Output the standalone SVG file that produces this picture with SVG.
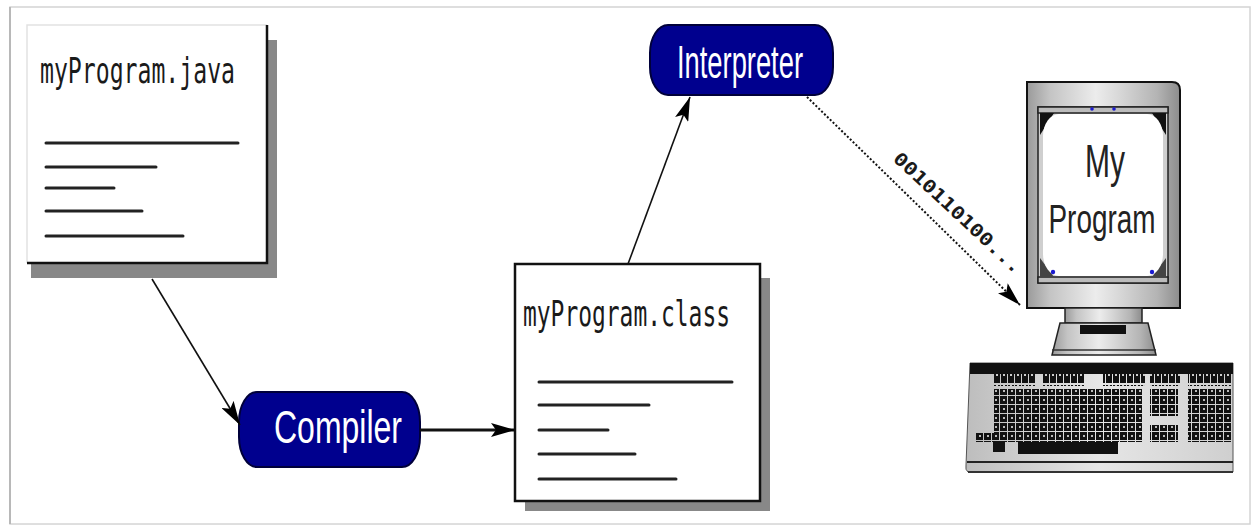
<svg xmlns="http://www.w3.org/2000/svg" width="1258" height="526" viewBox="0 0 1258 526">
  <style>
    .mono { font-family: "DejaVu Sans Mono", "Liberation Mono", monospace; fill: #1a1a1a; }
    .pilltext { font-family: "Liberation Sans", Arial, sans-serif; fill: #ffffff; text-anchor: middle; }
    .pill { fill: #00008e; stroke: #00003a; stroke-width: 2; }
    .docline { stroke: #222; stroke-width: 3; stroke-linecap: round; }
    .shadow { fill: #888; }
    .edge { stroke: #111; fill: none; }
    .dotted { stroke: #111; stroke-width: 2; stroke-dasharray: 2 2; fill: none; }
    .screentext { font-family: "Liberation Sans", Arial, sans-serif; fill: #222; text-anchor: middle; }
  </style>
  <defs>
    <marker id="arrow" viewBox="0 0 24 14" refX="24" refY="7" markerWidth="24" markerHeight="14" markerUnits="userSpaceOnUse" orient="auto">
      <path d="M0,0 L24,7 L0,14 L5,7 Z" fill="#000"/>
    </marker>
    <linearGradient id="metal" x1="0" y1="0" x2="1" y2="0">
      <stop offset="0" stop-color="#9a9a9a"/>
      <stop offset="0.15" stop-color="#c4c4c4"/>
      <stop offset="0.45" stop-color="#ececec"/>
      <stop offset="0.6" stop-color="#d8d8d8"/>
      <stop offset="0.85" stop-color="#b4b4b4"/>
      <stop offset="1" stop-color="#8c8c8c"/>
    </linearGradient>
    <linearGradient id="kbd" x1="0" y1="0" x2="1" y2="0">
      <stop offset="0" stop-color="#bdbdbd"/>
      <stop offset="0.5" stop-color="#e6e6e6"/>
      <stop offset="1" stop-color="#cfcfcf"/>
    </linearGradient>
    <pattern id="keys" x="0" y="0" width="8" height="9" patternUnits="userSpaceOnUse">
      <rect x="0" y="0" width="7" height="8" fill="#111"/>
      <rect x="3" y="3" width="2" height="2" fill="#bbb"/>
    </pattern>
    <pattern id="fkeys" x="0" y="0" width="7" height="12" patternUnits="userSpaceOnUse">
      <rect x="0" y="1" width="6" height="10" fill="#111"/>
      <rect x="2" y="1" width="2" height="3" fill="#ccc"/>
    </pattern>
  </defs>

  <!-- page frame -->
  <rect x="10" y="7" width="1240" height="517" fill="#fff" stroke="#d4d4d4" stroke-width="1.5"/>
  <line x1="10" y1="7" x2="10" y2="524" stroke="#b8b8b8" stroke-width="2"/>

  <!-- source file -->
  <g id="java-file">
    <rect class="shadow" x="31" y="40" width="246" height="238"/>
    <rect x="27" y="25" width="240" height="238" fill="#fff"/>
    <path d="M27,263 L27,25 L267,25" stroke="#e2e2e2" stroke-width="1.5" fill="none"/>
    <path d="M267,25 L267,263 L27,263" stroke="#111" stroke-width="2.5" fill="none"/>
    <text class="mono" x="40" y="83" font-size="35" textLength="195" lengthAdjust="spacingAndGlyphs">myProgram.java</text>
    <line class="docline" x1="46" y1="143" x2="238" y2="143"/>
    <line class="docline" x1="46" y1="167" x2="156" y2="167"/>
    <line class="docline" x1="46" y1="188" x2="114" y2="188"/>
    <line class="docline" x1="46" y1="211" x2="142" y2="211"/>
    <line class="docline" x1="46" y1="236" x2="183" y2="236"/>
  </g>

  <!-- compiler -->
  <g id="compiler">
    <rect class="pill" x="239" y="392" width="181" height="75" rx="18" ry="30"/>
    <text class="pilltext" x="338" y="443" font-size="47" textLength="128" lengthAdjust="spacingAndGlyphs">Compiler</text>
  </g>

  <!-- bytecode file -->
  <g id="class-file">
    <rect class="shadow" x="525" y="278" width="245" height="233"/>
    <rect x="515" y="264" width="245" height="237" fill="#fff" stroke="#111" stroke-width="2.5"/>
    <text class="mono" x="523" y="326" font-size="36" textLength="207" lengthAdjust="spacingAndGlyphs">myProgram.class</text>
    <line class="docline" x1="539" y1="382" x2="732" y2="382"/>
    <line class="docline" x1="539" y1="405" x2="649" y2="405"/>
    <line class="docline" x1="539" y1="430" x2="608" y2="430"/>
    <line class="docline" x1="539" y1="454" x2="635" y2="454"/>
    <line class="docline" x1="539" y1="479" x2="676" y2="479"/>
  </g>

  <!-- interpreter -->
  <g id="interpreter">
    <rect class="pill" x="650" y="25" width="183" height="70" rx="18" ry="28"/>
    <text class="pilltext" x="740" y="78" font-size="47" textLength="126" lengthAdjust="spacingAndGlyphs">Interpreter</text>
  </g>

  <!-- computer -->
  <g id="computer">
    <!-- monitor casing -->
    <path d="M1027,82 L1172,82 Q1180,82 1180,90 L1180,308 L1027,308 Z" fill="url(#metal)" stroke="#111" stroke-width="2"/>
    <rect x="1038" y="107" width="130" height="176" fill="#cfcfcf" stroke="#222" stroke-width="1.5"/>
    <rect x="1038" y="107" width="130" height="6" fill="#bcbcbc" stroke="#222" stroke-width="1.5"/>
    <rect x="1038" y="277" width="130" height="6" fill="#bcbcbc" stroke="#222" stroke-width="1.5"/>
    <!-- dark screen corners -->
    <path d="M1040,113 L1054,113 L1040,135 Z" fill="#111"/>
    <path d="M1166,113 L1152,113 L1166,135 Z" fill="#111"/>
    <path d="M1040,277 L1054,277 L1040,258 Z" fill="#444"/>
    <path d="M1166,277 L1152,277 L1166,258 Z" fill="#444"/>
    <rect x="1043" y="114" width="120" height="162" rx="16" ry="22" fill="#fff"/>
    <circle cx="1092" cy="109" r="1.8" fill="#1a1ad0"/>
    <circle cx="1114" cy="109" r="1.8" fill="#1a1ad0"/>
    <circle cx="1053" cy="272" r="2.2" fill="#1a1ad0"/>
    <circle cx="1152" cy="272" r="2.2" fill="#1a1ad0"/>
    <text class="screentext" x="1105" y="177" font-size="46" textLength="40" lengthAdjust="spacingAndGlyphs">My</text>
    <text class="screentext" x="1102" y="233" font-size="40" textLength="107" lengthAdjust="spacingAndGlyphs">Program</text>
    <!-- neck and stand -->
    <rect x="1065" y="308" width="77" height="15" fill="url(#metal)" stroke="#222" stroke-width="1.5"/>
    <path d="M1060,323 L1148,323 L1156,355 L1052,355 Z" fill="url(#metal)" stroke="#222" stroke-width="1.5"/>
    <rect x="1080" y="325" width="46" height="9" fill="#111"/>
    <line x1="1052" y1="350" x2="1156" y2="350" stroke="#333" stroke-width="1.5"/>
    <!-- keyboard -->
    <path d="M970,363 L1233,363 L1233,472 L968,472 Q965,470 966,465 Z" fill="url(#kbd)" stroke="#555" stroke-width="1"/>
    <rect x="970" y="363" width="263" height="11" fill="#111"/>
    <rect x="994" y="374" width="42" height="12" fill="url(#fkeys)"/>
    <rect x="1043" y="374" width="42" height="12" fill="url(#fkeys)"/>
    <rect x="1103" y="374" width="42" height="12" fill="url(#fkeys)"/>
    <rect x="1150" y="374" width="30" height="12" fill="url(#fkeys)"/>
    <rect x="1188" y="374" width="44" height="12" fill="url(#fkeys)"/>
    <rect x="994" y="389" width="148" height="53" fill="url(#keys)"/>
    <rect x="975" y="433" width="20" height="9" fill="url(#keys)"/>
    <rect x="1150" y="389" width="28" height="27" fill="url(#keys)"/>
    <rect x="1150" y="425" width="28" height="17" fill="url(#keys)"/>
    <rect x="1188" y="389" width="44" height="53" fill="url(#keys)"/>
    <rect x="993" y="441" width="12" height="11" fill="#111"/>
    <rect x="1018" y="442" width="100" height="12" fill="#111"/>
    <line x1="967" y1="462" x2="1233" y2="462" stroke="#222" stroke-width="2"/>
    <line x1="968" y1="472" x2="1233" y2="472" stroke="#333" stroke-width="2"/>
  </g>

  <!-- connectors -->
  <g id="connectors">
    <line class="edge" x1="152" y1="279" x2="240" y2="425" style="stroke-width:1.6" marker-end="url(#arrow)"/>
    <line class="edge" x1="420" y1="430" x2="515" y2="430" style="stroke-width:2.8" marker-end="url(#arrow)"/>
    <line class="edge" x1="628" y1="264" x2="690" y2="97" style="stroke-width:1.6" marker-end="url(#arrow)"/>
    <line class="dotted" x1="807" y1="97" x2="1020" y2="305" marker-end="url(#arrow)"/>
    <text class="mono" x="892" y="160" font-size="18" font-weight="bold" transform="rotate(43 892 160)" textLength="168" lengthAdjust="spacingAndGlyphs">0010110100...</text>
  </g>
</svg>
